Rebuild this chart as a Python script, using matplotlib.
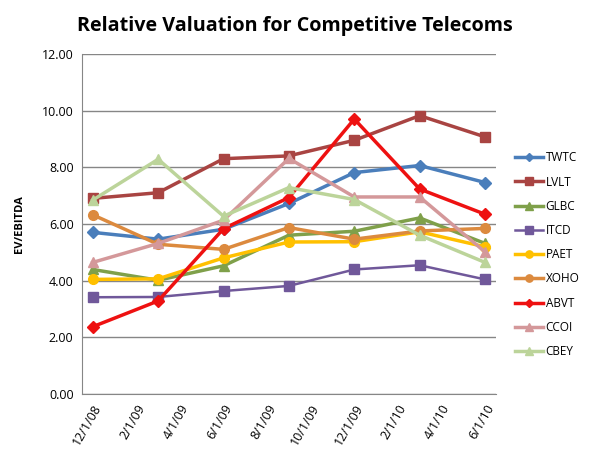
import matplotlib
matplotlib.use("Agg")
import matplotlib.pyplot as plt

# quarterly observation dates and the month axis they sit on
dates = ["12/1/08", "3/1/09", "6/1/09", "9/1/09", "12/1/09", "3/1/10", "6/1/10"]
axis_months = ["12/1/08", "1/1/09", "2/1/09", "3/1/09", "4/1/09", "5/1/09", "6/1/09",
               "7/1/09", "8/1/09", "9/1/09", "10/1/09", "11/1/09", "12/1/09", "1/1/10",
               "2/1/10", "3/1/10", "4/1/10", "5/1/10", "6/1/10"]
tick_labels = axis_months[::2]

twtc = [5.71, 5.47, 5.82, 6.73, 7.82, 8.07, 7.47]
lvlt = [6.91, 7.11, 8.31, 8.41, 8.96, 9.83, 9.08]
glbc = [4.40, 4.02, 4.53, 5.61, 5.75, 6.22, 5.32]
itcd = [3.42, 3.43, 3.64, 3.82, 4.40, 4.55, 4.05]
paet = [4.05, 4.07, 4.81, 5.37, 5.38, 5.73, 5.20]
xoho = [6.33, 5.29, 5.11, 5.88, 5.47, 5.76, 5.85]
abvt = [2.38, 3.29, 5.84, 6.94, 9.71, 7.24, 6.35]
ccoi = [4.65, 5.32, 6.14, 8.32, 6.96, 6.96, 5.02]
cbey = [6.85, 8.29, 6.28, 7.29, 6.87, 5.61, 4.65]

x = [axis_months.index(d) for d in dates]

fig = plt.figure(figsize=(5.89, 4.67), dpi=100)
ax = fig.add_axes([0.139, 0.156, 0.703, 0.728])

series = [
    ("TWTC", twtc, "#4A7EBB", "D", 2.5, 6),
    ("LVLT", lvlt, "#A94442", "s", 2.5, 7),
    ("GLBC", glbc, "#7FA04A", "^", 2.5, 7),
    ("ITCD", itcd, "#70589A", "s", 1.8, 7),
    ("PAET", paet, "#FFC000", "o", 2.5, 7),
    ("XOHO", xoho, "#DC8A3E", "o", 2.5, 7),
    ("ABVT", abvt, "#EE1111", "D", 2.5, 6),
    ("CCOI", ccoi, "#D4989A", "^", 2.5, 7),
    ("CBEY", cbey, "#BCD49A", "^", 2.5, 7),
]
for name, vals, col, mk, lw, ms in series:
    ax.plot(x, vals, color=col, marker=mk, lw=lw, ms=ms, label=name)

ax.set_xlim(-0.5, len(axis_months) - 0.5)
ax.set_ylim(0, 12)
ax.set_yticks(range(0, 13, 2))
ax.set_yticklabels([f"{v:.2f}" for v in range(0, 13, 2)], fontsize=9, family="Open Sans")
ax.set_xticks(range(0, len(axis_months), 2))
ax.set_xticklabels(tick_labels, rotation=60, ha="right", rotation_mode="anchor",
                   fontsize=9, family="Open Sans")
ax.tick_params(length=0, pad=6)
ax.grid(axis="y", color="#868686", lw=1)
ax.set_axisbelow(True)
for s in ["top", "right"]:
    ax.spines[s].set_visible(False)
for s in ["left", "bottom"]:
    ax.spines[s].set_color("#868686")

ax.set_ylabel("EV/EBITDA", fontsize=8, fontweight="bold", family="Open Sans", labelpad=12)
fig.suptitle("Relative Valuation for Competitive Telecoms", x=0.5, y=0.965,
             fontsize=14.2, fontweight="bold", family="Open Sans")

ax.legend(loc="center left", bbox_to_anchor=(1.02, 0.41), frameon=False,
          prop={"family": "Open Sans", "size": 8.5}, handlelength=2.4,
          labelspacing=0.95, handletextpad=0.2, markerscale=0.75)

plt.savefig("out.png", dpi=100)
